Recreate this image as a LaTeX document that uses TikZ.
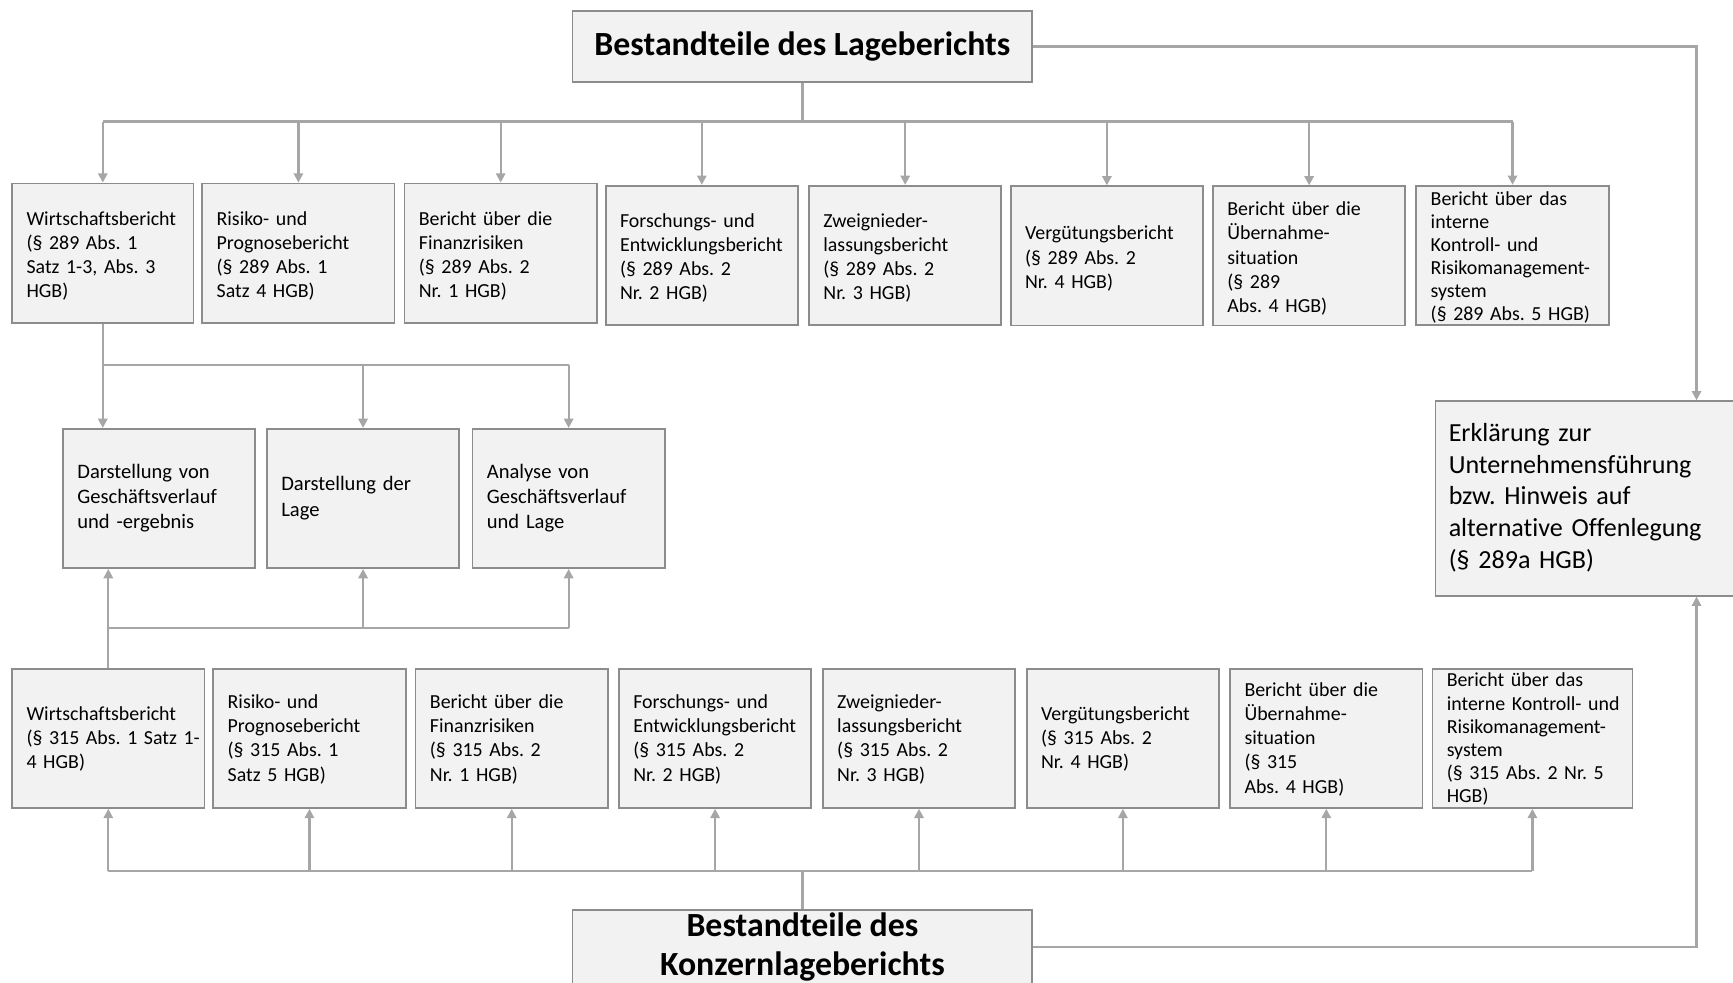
\documentclass[tikz,border=0pt]{standalone}
\usepackage{fontspec}
\setmainfont{Carlito}[Ligatures=NoCommon]
\usetikzlibrary{arrows.meta}

\definecolor{boxfill}{HTML}{F2F2F2}
\definecolor{boxline}{HTML}{8C8C8C}
\definecolor{wirecol}{HTML}{A6A6A6}

% stacked lines that never break, left aligned, optionally lowered a little
\newlength\rowdrop
\setlength\rowdrop{0pt}
\newcommand\rows[1]{\raisebox{-\rowdrop}[\height][\depth]{\begin{tabular}{@{}l@{}}#1\end{tabular}}}
\newcommand\smallfont{\fontsize{9}{10.9}\selectfont}
\newcommand\tightfont{\fontsize{9}{10.45}\selectfont}
\newcommand\midfont{\fontsize{9.3}{11.5}\selectfont}
\newcommand\erkfont{\fontsize{11.8}{14.4}\selectfont}
\newcommand\titlefont{\fontsize{15.3}{17.5}\selectfont\bfseries}

\begin{document}
\frenchspacing
\begin{tikzpicture}[x=0.5pt,y=-0.5pt,
  box/.style={draw=boxline, fill=boxfill, line width=0.8pt,
    inner xsep=6.5pt, inner ysep=0pt, minimum height=63pt,
    align=left, text width=#1, font=\smallfont},
  box/.default=74pt,
  drop/.style={execute at begin node={\setlength\rowdrop{#1}}},
  titlebox/.style={draw=boxline, fill=boxfill, line width=0.8pt,
    inner sep=0pt, minimum width=208pt, align=center, font=\titlefont},
  wire/.style={draw=wirecol, line width=1pt},
  arr/.style={wire, -{Triangle[length=4.2pt,width=4.2pt]}}]

\useasboundingbox (0,0) rectangle (1568,889);
\clip (0,0) rectangle (1568,889);

% headline boxes
\node[titlebox, minimum height=32pt] (top) at (726,42) {Bestandteile des Lageberichts};
\node[titlebox, minimum height=34pt] (bot) at (726,857) {Bestandteile des\\Konzernlageberichts};

% components of the management report
\begin{scope}[every node/.append style={drop=1.5pt}]
\node[box=69pt] (t1) at (93,229) {\rows{Wirtschaftsbericht\\(§ 289 Abs. 1\\Satz 1-3, Abs. 3\\HGB)}};
\node[box] (t2) at (270,229) {\rows{Risiko- und\\Prognosebericht\\(§ 289 Abs. 1\\Satz 4 HGB)}};
\node[box] (t3) at (453,229) {\rows{Bericht über die\\Finanzrisiken\\(§ 289 Abs. 2\\Nr. 1 HGB)}};
\node[box] (t4) at (635,231) {\rows{Forschungs- und\\Entwicklungsbericht\\(§ 289 Abs. 2\\Nr. 2 HGB)}};
\node[box] (t5) at (819,231) {\rows{Zweignieder-\\lassungsbericht\\(§ 289 Abs. 2\\Nr. 3 HGB)}};
\node[box] (t6) at (1001.5,231.5) {\rows{Vergütungsbericht\\(§ 289 Abs. 2\\Nr. 4 HGB)}};
\node[box] (t7) at (1184.5,231.5) {\rows{Bericht über die\\Übernahme-\\situation\\(§ 289\\Abs. 4 HGB)}};
\node[box, font=\tightfont] (t8) at (1368.5,231) {\rows{Bericht über das\\interne\\Kontroll- und\\Risikomanagement-\\system\\(§ 289 Abs. 5 HGB)}};
\end{scope}

% contents of the economic report
\node[box, font=\midfont] (m1) at (144,451) {\rows{Darstellung von\\Geschäftsverlauf\\und -ergebnis}};
\node[box, font=\midfont] (m2) at (328.5,451) {\rows{Darstellung der\\Lage}};
\node[box, font=\midfont] (m3) at (514.5,451) {\rows{Analyse von\\Geschäftsverlauf\\und Lage}};

% components of the group management report
\begin{scope}[every node/.append style={drop=0.8pt}]
\node[box] (b1) at (98,668) {\rows{Wirtschaftsbericht\\(§ 315 Abs. 1 Satz 1-\\4 HGB)}};
\node[box] (b2) at (280,668) {\rows{Risiko- und\\Prognosebericht\\(§ 315 Abs. 1\\Satz 5 HGB)}};
\node[box] (b3) at (463,668) {\rows{Bericht über die\\Finanzrisiken\\(§ 315 Abs. 2\\Nr. 1 HGB)}};
\node[box] (b4) at (647,668) {\rows{Forschungs- und\\Entwicklungsbericht\\(§ 315 Abs. 2\\Nr. 2 HGB)}};
\node[box] (b5) at (831.5,668) {\rows{Zweignieder-\\lassungsbericht\\(§ 315 Abs. 2\\Nr. 3 HGB)}};
\node[box] (b6) at (1016,668) {\rows{Vergütungsbericht\\(§ 315 Abs. 2\\Nr. 4 HGB)}};
\node[box] (b7) at (1200,668) {\rows{Bericht über die\\Übernahme-\\situation\\(§ 315\\Abs. 4 HGB)}};
\node[box=77.5pt, font=\tightfont] (b8) at (1386.5,668) {\rows{Bericht über das\\interne Kontroll- und\\Risikomanagement-\\system\\(§ 315 Abs. 2 Nr. 5\\HGB)}};
\end{scope}

% corporate governance statement
\node[box=134pt, inner xsep=6pt, minimum height=88pt, font=\erkfont, anchor=west] (erk) at (1298,451)
  {\rows{Erklärung zur\\Unternehmensführung\\bzw. Hinweis auf\\alternative Offenlegung\\(§ 289a HGB)}};

% bus lines
\coordinate (busT) at (726,110);
\coordinate (busM) at (93,330);
\coordinate (busU) at (99,568);
\coordinate (busB) at (726,788);
\coordinate (rx) at (1535,0);

\draw[wire] (top.south) -- (busT);
\draw[wire] (busT -| t1) -- (busT -| t8);
\foreach \i in {1,...,8} \draw[arr] (busT -| t\i) -- (t\i.north);

\draw[wire] (t1.south) -- (t1 |- busM);
\draw[wire] (t1 |- busM) -- (m3 |- busM);
\draw[arr] (t1 |- busM) -- (t1 |- m1.north);
\draw[arr] (m2 |- busM) -- (m2.north);
\draw[arr] (m3 |- busM) -- (m3.north);

\draw[wire] (b1.north) -- (b1 |- busU);
\draw[wire] (b1 |- busU) -- (m3 |- busU);
\draw[arr] (b1 |- busU) -- (b1 |- m1.south);
\draw[arr] (m2 |- busU) -- (m2.south);
\draw[arr] (m3 |- busU) -- (m3.south);

\draw[wire] (bot.north) -- (busB);
\draw[wire] (busB -| b1) -- (busB -| b8);
\foreach \i in {1,...,8} \draw[arr] (busB -| b\i) -- (b\i.south);

\draw[arr] (top.east) -| (rx |- erk.north);
\draw[arr] (bot.east) -| (rx |- erk.south);
\end{tikzpicture}
\end{document}
